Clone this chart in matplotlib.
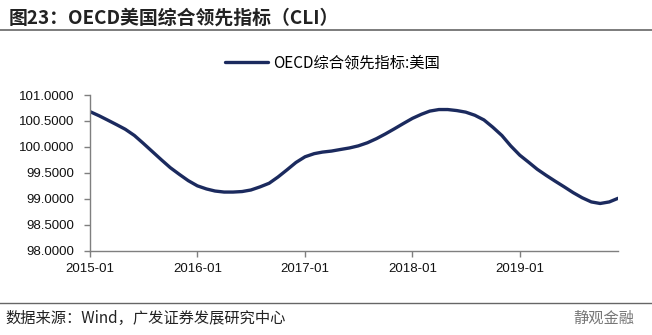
import matplotlib
matplotlib.use("Agg")
from matplotlib import pyplot as plt
import matplotlib.dates as mdates
import pandas as pd

# OECD CLI for the US, monthly, 2015-01 .. 2019-12
months = pd.date_range("2015-01-01", "2019-12-01", freq="MS")
cli_us = [
    100.68, 100.60, 100.52, 100.43, 100.34, 100.22, 100.07, 99.91, 99.75, 99.60, 99.47, 99.35,
    99.25, 99.19, 99.15, 99.13, 99.13, 99.14, 99.17, 99.23, 99.30, 99.42, 99.56, 99.70,
    99.81, 99.87, 99.90, 99.92, 99.95, 99.98, 100.02, 100.08, 100.16, 100.25, 100.35, 100.45,
    100.55, 100.63, 100.69, 100.72, 100.72, 100.70, 100.67, 100.61, 100.52, 100.38, 100.22, 100.02,
    99.84, 99.70, 99.57, 99.45, 99.34, 99.23, 99.12, 99.02, 98.94, 98.91, 98.94, 99.01,
]
tick_dates = pd.to_datetime(["2015-01-01", "2016-01-01", "2017-01-01", "2018-01-01", "2019-01-01"])
yticks = [98.0, 98.5, 99.0, 99.5, 100.0, 100.5, 101.0]

title = "图23：OECD美国综合领先指标（CLI）"
legend_label = "OECD综合领先指标:美国"
source = "数据来源：Wind，广发证券发展研究中心"

cjk = ["Noto Sans CJK SC", "DejaVu Sans"]
plt.rcParams["font.family"] = ["Liberation Sans", "Noto Sans CJK SC"]

fig = plt.figure(figsize=(6.52, 3.35), dpi=100)
ax = fig.add_axes([0.138, 0.2516, 0.810, 0.4648])

line, = ax.plot(months, cli_us, color="#1b2a5e", lw=2.4, solid_capstyle="round")

ax.set_ylim(98, 101)
ax.set_yticks(yticks)
ax.yaxis.set_major_formatter(plt.FormatStrFormatter("%.4f"))
ax.set_xlim(months[0], months[-1])
ax.set_xticks(tick_dates)
ax.xaxis.set_major_formatter(mdates.DateFormatter("%Y-%m"))

for s in ["top", "right"]:
    ax.spines[s].set_visible(False)
for s in ["left", "bottom"]:
    ax.spines[s].set_color("#7f7f7f")
    ax.spines[s].set_linewidth(1.0)
ax.tick_params(axis="both", direction="out", length=4, width=1.0, color="#7f7f7f",
               labelsize=9.5, labelcolor="#111111")
ax.tick_params(axis="y", pad=7)
ax.tick_params(axis="x", pad=5)

fig.legend([line], [legend_label], loc="center", bbox_to_anchor=(0.51, 0.812),
           frameon=False, prop={"family": cjk, "size": 11}, handlelength=2.8,
           handletextpad=0.3)

fig.text(0.014, 0.945, title, family=cjk, fontsize=13.6, fontweight="bold",
         color="#222222", va="center", ha="left")
fig.add_artist(plt.Line2D([0, 1], [0.91, 0.91], color="#666666", lw=1.2))
fig.add_artist(plt.Line2D([0, 1], [0.097, 0.097], color="#666666", lw=1.0))
fig.text(0.008, 0.05, source, family=cjk, fontsize=11, color="#222222",
         va="center", ha="left")
fig.text(0.88, 0.05, "静观金融", family=cjk, fontsize=11, color="#777777",
         va="center", ha="left")

fig.savefig("out.png", dpi=100)
